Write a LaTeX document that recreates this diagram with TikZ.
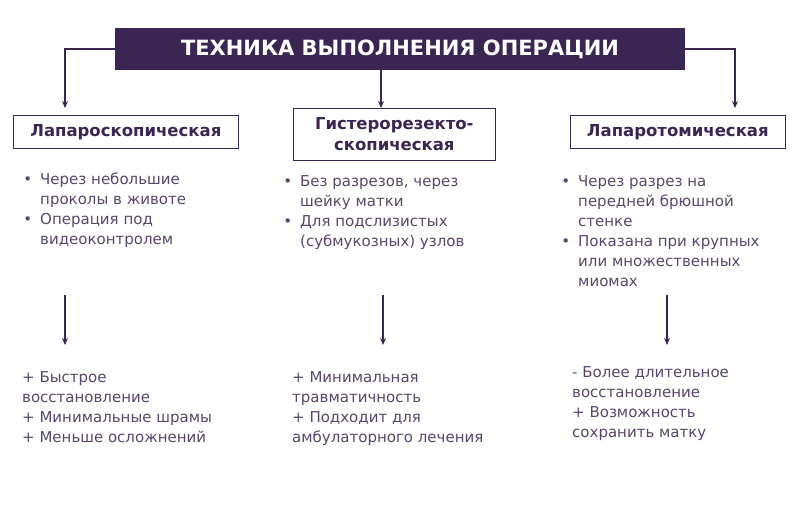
\documentclass[tikz,border=0pt]{standalone}
\usepackage{fontspec}
\setmainfont{DejaVu Sans}
\usetikzlibrary{arrows.meta}
\definecolor{darkplum}{HTML}{3B2553}
\tikzset{
  x=1pt, y=-1pt,
  every node/.style={font=\fontsize{15}{20}\selectfont, text=darkplum!85},
  title/.style={fill=darkplum, text=white, font=\fontsize{21}{24}\selectfont\bfseries, minimum width=570pt, minimum height=42pt, inner sep=0pt},
  kind/.style={draw=darkplum, line width=0.6pt, font=\fontsize{16.5}{21}\selectfont\bfseries, text=darkplum, inner sep=0pt, anchor=north west},
  info/.style={align=left, anchor=north west, inner sep=0pt},
  line/.style={draw=darkplum, line width=1.2pt, -{Stealth[length=7pt,width=6pt]}}
}
\newcommand{\bul}{\llap{•\hspace{8pt}}}
\begin{document}
\begin{tikzpicture}
\useasboundingbox (0,0) rectangle (800,530);
% Title
\node [title] (tech) at (400,49) {ТЕХНИКА ВЫПОЛНЕНИЯ ОПЕРАЦИИ};
% Kinds
\node [kind, minimum width=225pt, minimum height=33pt] (lapsc) at (13,115) {Лапароскопическая};
\node [kind, minimum width=202pt, minimum height=52pt, align=center] (hyst) at (293,108) {Гистерорезекто-\\скопическая};
\node [kind, minimum width=215pt, minimum height=33pt] (lapt) at (570,115) {Лапаротомическая};
% Details
\node [info] (d1) at (40,173) {\bul Через небольшие\\проколы в животе\\\bul Операция под\\видеоконтролем};
\node [info] (d2) at (300,175) {\bul Без разрезов, через\\шейку матки\\\bul Для подслизистых\\(субмукозных) узлов};
\node [info] (d3) at (578,175) {\bul Через разрез на\\передней брюшной\\стенке\\\bul Показана при крупных\\или множественных\\миомах};
% Outcomes
\node [info] (r1) at (22,371) {+ Быстрое\\восстановление\\+ Минимальные шрамы\\+ Меньше осложнений};
\node [info] (r2) at (292,371) {+ Минимальная\\травматичность\\+ Подходит для\\амбулаторного лечения};
\node [info] (r3) at (572,366) {- Более длительное\\восстановление\\+ Возможность\\сохранить матку};
% Arrow stubs
\coordinate (m0) at (381,70); \coordinate (m1) at (381,108);
\coordinate (a1) at (65,295); \coordinate (b1) at (65,345);
\coordinate (a2) at (383,295); \coordinate (b2) at (383,345);
\coordinate (a3) at (667,295); \coordinate (b3) at (667,345);
% Draw edges
\path [line] (tech.west) -| (65,108);
\path [line] (tech.east) -| (735,108);
\path [line] (m0) -- (m1);
\path [line] (a1) -- (b1);
\path [line] (a2) -- (b2);
\path [line] (a3) -- (b3);
\end{tikzpicture}
\end{document}
